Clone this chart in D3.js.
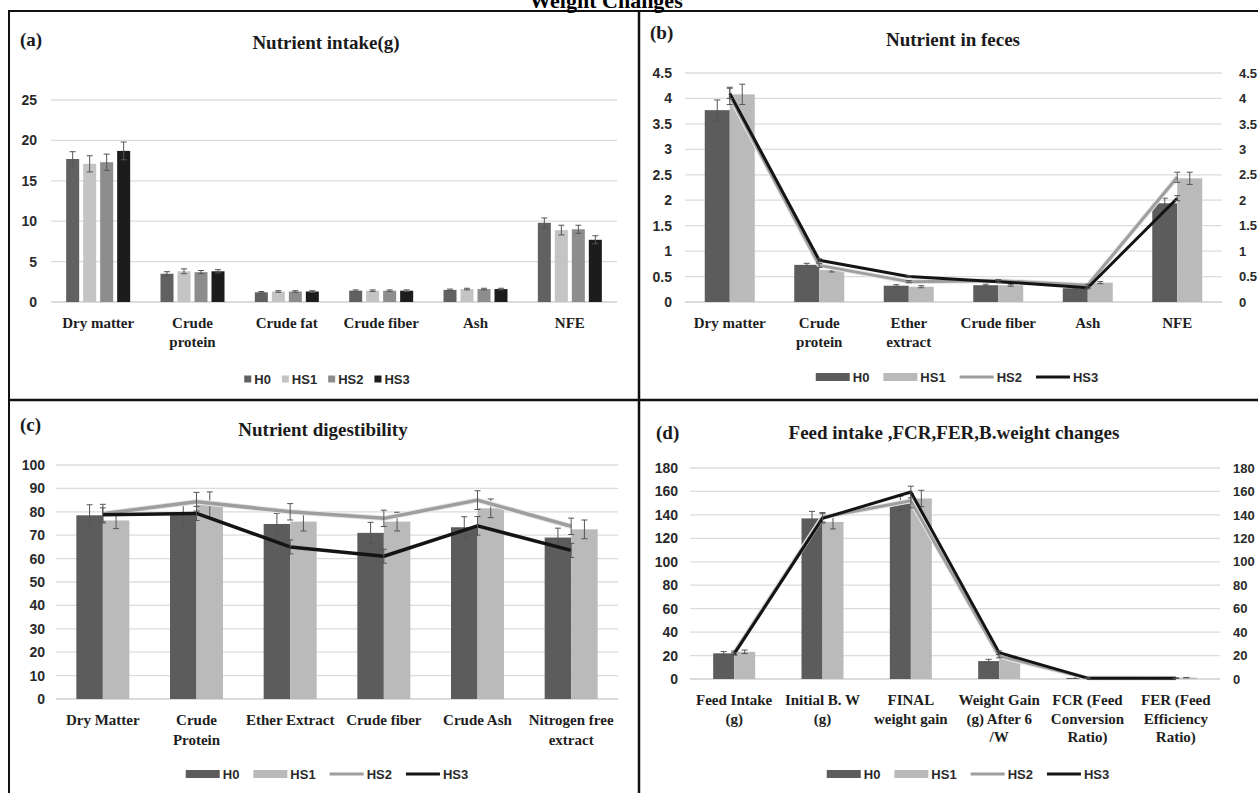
<!DOCTYPE html>
<html>
<head>
<meta charset="utf-8">
<script src="https://cdn.jsdelivr.net/npm/d3@7"></script>
<style>
body { margin: 0; background: #fff; }
svg { display: block; }
</style>
</head>
<body>
<div id="chart"></div>
<script>
// series names
var seriesNames = ["H0", "HS1", "HS2", "HS3"];

// (a) Nutrient intake(g)
var aCats = [["Dry matter"], ["Crude", "protein"], ["Crude fat"], ["Crude fiber"], ["Ash"], ["NFE"]];
var aH0  = [17.7, 3.5, 1.2, 1.4, 1.5, 9.8];
var aHS1 = [17.1, 3.8, 1.3, 1.4, 1.6, 8.9];
var aHS2 = [17.3, 3.7, 1.3, 1.4, 1.6, 9.0];
var aHS3 = [18.7, 3.8, 1.3, 1.4, 1.6, 7.7];
var aH0err  = [0.9, 0.25, 0.1, 0.1, 0.1, 0.6];
var aHS1err = [1.0, 0.3, 0.1, 0.1, 0.1, 0.6];
var aHS2err = [1.0, 0.2, 0.1, 0.1, 0.1, 0.5];
var aHS3err = [1.1, 0.2, 0.1, 0.1, 0.1, 0.5];
var aTicks = [0, 5, 10, 15, 20, 25];

// (b) Nutrient in feces
var bCats = [["Dry matter"], ["Crude", "protein"], ["Ether", "extract"], ["Crude fiber"], ["Ash"], ["NFE"]];
var bH0  = [3.77, 0.73, 0.32, 0.33, 0.27, 1.94];
var bHS1 = [4.08, 0.63, 0.30, 0.33, 0.38, 2.43];
var bHS2 = [4.05, 0.72, 0.40, 0.42, 0.33, 2.45];
var bHS3 = [4.10, 0.82, 0.50, 0.40, 0.28, 2.04];
var bH0err  = [0.2, 0.03, 0.02, 0.02, 0.02, 0.1];
var bHS1err = [0.2, 0.04, 0.02, 0.02, 0.02, 0.12];
var bHS2err = [0.17, 0.04, 0.02, 0.02, 0.02, 0.1];
var bHS3err = [0.1, 0.03, 0.02, 0.02, 0.02, 0.05];
var bTicks = [0, 0.5, 1, 1.5, 2, 2.5, 3, 3.5, 4, 4.5];

// (c) Nutrient digestibility
var cCats = [["Dry Matter"], ["Crude", "Protein"], ["Ether Extract"], ["Crude fiber"], ["Crude Ash"], ["Nitrogen free", "extract"]];
var cH0  = [78.5, 78.6, 74.8, 71.0, 73.4, 69.0];
var cHS1 = [76.3, 83.0, 75.8, 75.8, 81.5, 72.5];
var cHS2 = [79.2, 84.3, 80.0, 77.2, 85.0, 73.8];
var cHS3 = [78.7, 79.3, 65.0, 61.0, 74.0, 63.5];
var cH0err  = [4.5, 5.5, 4.5, 4.5, 4.5, 4];
var cHS1err = [3.5, 5.5, 4, 4, 4, 4];
var cHS2err = [4, 4, 3.5, 3.5, 4, 3.5];
var cHS3err = [3, 3, 3, 3, 4, 3];
var cTicks = [0, 10, 20, 30, 40, 50, 60, 70, 80, 90, 100];

// (d) Feed intake ,FCR,FER,B.weight changes
var dCats = [["Feed Intake", "(g)"], ["Initial B. W", "(g)"], ["FINAL", "weight gain"],
             ["Weight Gain", "(g) After 6", "/W"], ["FCR (Feed", "Conversion", "Ratio)"], ["FER (Feed", "Efficiency", "Ratio)"]];
var dH0  = [21.9, 137, 150, 15.3, 0.9, 0.7];
var dHS1 = [23.2, 134, 154, 18.0, 0.8, 1.2];
var dHS2 = [22.3, 138, 152, 19.5, 0.8, 0.7];
var dHS3 = [21.4, 137, 159.5, 22.5, 0.7, 0.6];
var dH0err  = [1.5, 6, 6, 1.5, 0.1, 0.1];
var dHS1err = [1.5, 6, 7, 1.5, 0.1, 0.1];
var dHS2err = [1.5, 4, 6, 1.5, 0.1, 0.1];
var dHS3err = [1, 4, 5, 1.5, 0.1, 0.1];
var dTicks = [0, 20, 40, 60, 80, 100, 120, 140, 160, 180];

var W = 1258, H = 793;
var serif = "'Liberation Serif', 'Times New Roman', serif";
var sans = "'Liberation Sans', Arial, sans-serif";

var svg = d3.select("#chart").append("svg")
    .attr("width", W)
    .attr("height", H);

function errBar(g, cx, y, v, e) {
    var top = y(v + e), bot = y(v - e);
    g.append("line").attr("x1", cx).attr("x2", cx).attr("y1", top).attr("y2", bot)
        .attr("stroke", "#555").attr("stroke-width", 1);
    [top, bot].forEach(function (yy) {
        g.append("line").attr("x1", cx - 3).attr("x2", cx + 3).attr("y1", yy).attr("y2", yy)
            .attr("stroke", "#555").attr("stroke-width", 1);
    });
}

function drawPanel(p) {
    var g = svg.append("g");
    var x = d3.scaleBand().domain(d3.range(p.cats.length)).range(p.xr);
    var y = d3.scaleLinear().domain([0, p.max]).range(p.yr);
    var cx = function (i) { return x(i) + x.bandwidth() / 2; };

    // gridlines
    g.selectAll(".grid").data(p.ticks).enter().append("line")
        .attr("x1", p.xr[0]).attr("x2", p.xr[1])
        .attr("y1", function (d) { return y(d); })
        .attr("y2", function (d) { return y(d); })
        .attr("stroke", function (d) { return d === 0 ? "#cfcfcf" : "#dcdcdc"; })
        .attr("stroke-width", 1.3);

    // left axis
    var ax = g.append("g").attr("transform", "translate(" + p.xr[0] + ",0)")
        .call(d3.axisLeft(y).tickValues(p.ticks).tickSize(0).tickPadding(p.padL).tickFormat(d3.format("")));
    ax.select(".domain").remove();
    ax.selectAll("text").attr("font-family", sans).attr("font-weight", "bold")
        .attr("font-size", 14).attr("fill", "#2a2a2a");

    // right axis
    if (p.right) {
        var ar = g.append("g").attr("transform", "translate(" + p.xr[1] + ",0)")
            .call(d3.axisRight(y).tickValues(p.ticks).tickSize(0).tickPadding(p.padR).tickFormat(d3.format("")));
        ar.select(".domain").remove();
        ar.selectAll("text").attr("font-family", sans).attr("font-weight", "bold")
            .attr("font-size", 13).attr("fill", "#2a2a2a");
    }

    // bars
    p.bars.forEach(function (s, k) {
        var n = p.bars.length;
        s.vals.forEach(function (v, i) {
            var bx = cx(i) + (k - (n - 1) / 2) * p.step - p.bw / 2;
            g.append("rect").attr("x", bx).attr("y", y(v))
                .attr("width", p.bw).attr("height", y(0) - y(v))
                .attr("fill", s.color);
        });
    });
    // bar error bars
    p.bars.forEach(function (s, k) {
        var n = p.bars.length;
        s.vals.forEach(function (v, i) {
            var bxc = cx(i) + (k - (n - 1) / 2) * p.step;
            errBar(g, bxc, y, v, s.err[i]);
        });
    });

    // lines
    p.lines.forEach(function (s) {
        var line = d3.line().x(function (d, i) { return cx(i); }).y(function (d) { return y(d); });
        if (s.halo) {
            g.append("path").datum(s.vals).attr("d", line).attr("fill", "none")
                .attr("stroke", "#e8e8e8").attr("stroke-width", s.width + 2);
        }
        g.append("path").datum(s.vals).attr("d", line).attr("fill", "none")
            .attr("stroke", s.color).attr("stroke-width", s.width)
            .attr("stroke-linejoin", "round");
        s.vals.forEach(function (v, i) { errBar(g, cx(i), y, v, s.err[i]); });
    });

    // category labels
    p.cats.forEach(function (lines, i) {
        var t = g.append("text").attr("text-anchor", "middle")
            .attr("font-family", serif).attr("font-weight", "bold")
            .attr("font-size", 15).attr("fill", "#1e1e1e");
        lines.forEach(function (l, j) {
            t.append("tspan").attr("x", cx(i)).attr("y", p.labY + 5 + j * p.labLH).text(l);
        });
    });

    // title and panel letter
    g.append("text").attr("x", p.titleX).attr("y", p.titleY + 6).attr("text-anchor", "middle")
        .attr("font-family", serif).attr("font-weight", "bold").attr("font-size", 19)
        .attr("fill", "#1a1a1a").text(p.title);
    g.append("text").attr("x", p.letterX).attr("y", p.letterY + 6)
        .attr("font-family", serif).attr("font-weight", "bold").attr("font-size", 19)
        .attr("fill", "#1a1a1a").text(p.letter);

    // legend
    var lg = g.append("g");
    var xpos = 0;
    p.legend.forEach(function (it) {
        var sw = it.type === "square" ? 7 : 34;
        var ig = lg.append("g").attr("transform", "translate(" + xpos + ",0)");
        if (it.type === "square") {
            ig.append("rect").attr("x", 0).attr("y", -3.5).attr("width", 7).attr("height", 7).attr("fill", it.color);
        } else if (it.type === "rect") {
            ig.append("rect").attr("x", 0).attr("y", -4).attr("width", sw).attr("height", 8).attr("fill", it.color);
        } else {
            ig.append("line").attr("x1", 0).attr("x2", sw).attr("y1", 0).attr("y2", 0)
                .attr("stroke", it.color).attr("stroke-width", 3);
        }
        var tx = ig.append("text").attr("x", sw + 3).attr("y", 5)
            .attr("font-family", sans).attr("font-weight", "bold").attr("font-size", 13)
            .attr("fill", "#2a2a2a").text(it.name);
        var w = sw + 3 + tx.node().getComputedTextLength();
        xpos += w + p.legGap;
    });
    var total = xpos - p.legGap;
    lg.attr("transform", "translate(" + (p.legX - total / 2) + "," + p.legY + ")");
}

var cH0c = "#5c5c5c", cHS1c = "#bababa", cHS2c = "#9e9e9e", cHS3c = "#141414";

drawPanel({
    cats: aCats, xr: [51, 617], yr: [302, 100], max: 25, ticks: aTicks, padL: 14, right: false,
    bars: [
        { vals: aH0, err: aH0err, color: "#616161" },
        { vals: aHS1, err: aHS1err, color: "#c4c4c4" },
        { vals: aHS2, err: aHS2err, color: "#8d8d8d" },
        { vals: aHS3, err: aHS3err, color: "#1c1c1c" }
    ],
    bw: 13, step: 17, lines: [],
    labY: 323, labLH: 19,
    title: "Nutrient intake(g)", titleX: 326, titleY: 43, letter: "(a)", letterX: 20, letterY: 40,
    legend: [
        { name: "H0", type: "square", color: "#616161" },
        { name: "HS1", type: "square", color: "#c4c4c4" },
        { name: "HS2", type: "square", color: "#8d8d8d" },
        { name: "HS3", type: "square", color: "#1c1c1c" }
    ],
    legX: 327, legY: 379, legGap: 11
});

drawPanel({
    cats: bCats, xr: [685, 1222], yr: [302, 73], max: 4.5, ticks: bTicks, padL: 13, right: true, padR: 17,
    bars: [
        { vals: bH0, err: bH0err, color: cH0c },
        { vals: bHS1, err: bHS1err, color: cHS1c }
    ],
    bw: 25, step: 25,
    lines: [
        { vals: bHS2, err: bHS2err, color: cHS2c, width: 3, halo: true },
        { vals: bHS3, err: bHS3err, color: cHS3c, width: 3 }
    ],
    labY: 323, labLH: 19,
    title: "Nutrient in feces", titleX: 953, titleY: 40, letter: "(b)", letterX: 650, letterY: 33,
    legend: [
        { name: "H0", type: "rect", color: cH0c },
        { name: "HS1", type: "rect", color: cHS1c },
        { name: "HS2", type: "line", color: cHS2c },
        { name: "HS3", type: "line", color: cHS3c }
    ],
    legX: 957, legY: 377, legGap: 14
});

drawPanel({
    cats: cCats, xr: [56, 618], yr: [699, 465], max: 100, ticks: cTicks, padL: 11, right: false,
    bars: [
        { vals: cH0, err: cH0err, color: cH0c },
        { vals: cHS1, err: cHS1err, color: cHS1c }
    ],
    bw: 26.5, step: 26.5,
    lines: [
        { vals: cHS2, err: cHS2err, color: cHS2c, width: 3.5, halo: true },
        { vals: cHS3, err: cHS3err, color: cHS3c, width: 3.5 }
    ],
    labY: 720, labLH: 20,
    title: "Nutrient digestibility", titleX: 323, titleY: 430, letter: "(c)", letterX: 20, letterY: 425,
    legend: [
        { name: "H0", type: "rect", color: cH0c },
        { name: "HS1", type: "rect", color: cHS1c },
        { name: "HS2", type: "line", color: cHS2c },
        { name: "HS3", type: "line", color: cHS3c }
    ],
    legX: 327, legY: 774, legGap: 14
});

drawPanel({
    cats: dCats, xr: [690, 1220], yr: [679, 468], max: 180, ticks: dTicks, padL: 12, right: true, padR: 13,
    bars: [
        { vals: dH0, err: dH0err, color: cH0c },
        { vals: dHS1, err: dHS1err, color: cHS1c }
    ],
    bw: 21, step: 21,
    lines: [
        { vals: dHS2, err: dHS2err, color: cHS2c, width: 3, halo: true },
        { vals: dHS3, err: dHS3err, color: cHS3c, width: 3 }
    ],
    labY: 700, labLH: 18.5,
    title: "Feed intake ,FCR,FER,B.weight changes", titleX: 954, titleY: 433, letter: "(d)", letterX: 656, letterY: 433,
    legend: [
        { name: "H0", type: "rect", color: cH0c },
        { name: "HS1", type: "rect", color: cHS1c },
        { name: "HS2", type: "line", color: cHS2c },
        { name: "HS3", type: "line", color: cHS3c }
    ],
    legX: 968, legY: 774, legGap: 14
});

// frame lines between panels
var frame = svg.append("g").attr("stroke", "#111");
frame.append("line").attr("x1", 8).attr("x2", W).attr("y1", 11).attr("y2", 11).attr("stroke-width", 2);
frame.append("line").attr("x1", 9).attr("x2", 9).attr("y1", 10).attr("y2", H).attr("stroke-width", 2);
frame.append("line").attr("x1", 639).attr("x2", 639).attr("y1", 10).attr("y2", H).attr("stroke-width", 2.5);
frame.append("line").attr("x1", 8).attr("x2", W).attr("y1", 400).attr("y2", 400).attr("stroke-width", 2.5);

// overall title, cut off at the top
svg.append("text").attr("x", 606).attr("y", 8).attr("text-anchor", "middle")
    .attr("font-family", serif).attr("font-weight", "bold").attr("font-size", 22)
    .attr("fill", "#000").text("Weight Changes");
</script>
</body>
</html>
